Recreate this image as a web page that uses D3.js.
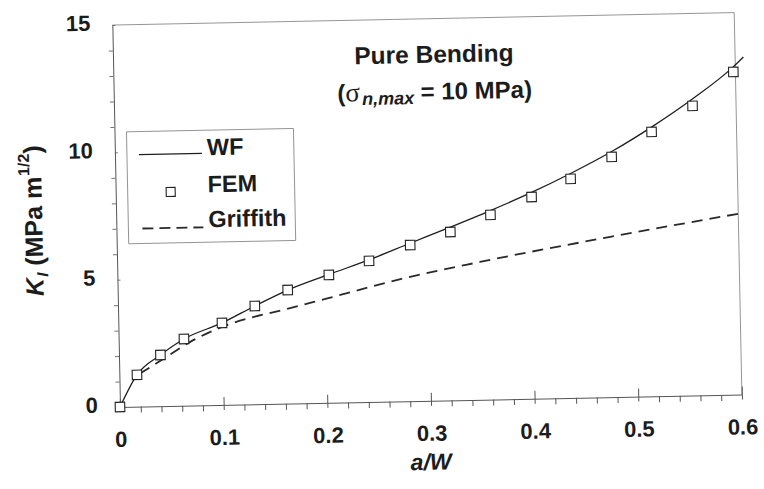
<!DOCTYPE html>
<html><head><meta charset="utf-8">
<script src="https://cdn.jsdelivr.net/npm/d3@7"></script>
<style>body{margin:0;background:#fff}svg{display:block}</style>
</head><body>
<svg id="c" width="764" height="489"></svg>
<script>
// ---- data ----
const xTickValues = [0, 0.1, 0.2, 0.3, 0.4, 0.5, 0.6];
const xTickLabels = ["0", "0.1", "0.2", "0.3", "0.4", "0.5", "0.6"];
const yTickValues = [0, 5, 10, 15];
const yTickLabels = ["0", "5", "10", "15"];

const femA = [0, 0.017, 0.04, 0.063, 0.1, 0.132, 0.164, 0.204, 0.243, 0.283, 0.322, 0.361, 0.401, 0.439, 0.479, 0.518, 0.558, 0.598];
const femK = [0, 1.25, 2.01, 2.62, 3.22, 3.86, 4.46, 5.02, 5.54, 6.13, 6.61, 7.25, 7.92, 8.60, 9.43, 10.38, 11.37, 12.67];

const wfA = [0, 0.017, 0.04, 0.063, 0.1, 0.132, 0.164, 0.204, 0.243, 0.283, 0.322, 0.361, 0.40, 0.44, 0.48, 0.518, 0.558, 0.598, 0.608];
const wfK = [0, 1.25, 2.01, 2.62, 3.22, 3.86, 4.46, 5.04, 5.58, 6.2, 6.8, 7.42, 8.08, 8.83, 9.66, 10.57, 11.64, 12.87, 13.25];

const grA = [0.02, 0.041, 0.069, 0.1, 0.166, 0.203, 0.273, 0.35, 0.486, 0.605];
const grK = [1.3, 1.81, 2.5, 3.06, 3.75, 4.11, 4.8, 5.41, 6.36, 7.13];

const legendLabels = ["WF", "FEM", "Griffith"];

// ---- drawing ----
const svg = d3.select("#c");
const L = 120, R = 742, T = 25, B = 407;
const x = d3.scaleLinear().domain([0, 0.6]).range([L, R]);
const y = d3.scaleLinear().domain([0, 15]).range([B, T]);
const font = "Arial, 'Liberation Sans', Helvetica, sans-serif";
const ink = "#1c1c1c";

const g = svg.append("g").attr("transform", `rotate(-1.15,${L},${B})`);

// frame (top and right)
g.append("path").attr("d", `M${L},${T}H${R}V${B}`).attr("fill", "none")
  .attr("stroke", "#8a8a8a").attr("stroke-width", 0.9);

// x axis
const xMinor = d3.range(0, 0.6001, 0.02).filter(v => Math.abs(v * 10 - Math.round(v * 10)) > 1e-6);
const xAxisMinor = d3.axisBottom(x).tickValues(xMinor).tickSize(6).tickFormat("");
const xAxisMajor = d3.axisBottom(x).tickValues(xTickValues).tickSizeInner(-8).tickSizeOuter(0)
  .tickFormat((d, i) => xTickLabels[i]);
const gxm = g.append("g").attr("transform", `translate(0,${B})`).call(xAxisMinor);
const gx = g.append("g").attr("transform", `translate(0,${B})`).call(xAxisMajor);
gx.selectAll(".tick line").attr("y1", 5);
[gxm, gx].forEach(a => {
  a.select(".domain").attr("stroke", "#555").attr("stroke-width", 1);
  a.selectAll(".tick line").attr("stroke", "#555").attr("stroke-width", 1);
});
gxm.select(".domain").remove();
gx.selectAll(".tick text").attr("y", 40).attr("dy", 0)
  .attr("font-family", font).attr("font-weight", "bold").attr("font-size", 22).attr("fill", ink);

// y axis
const yMinor = d3.range(0, 15.001, 1).filter(v => v % 5 !== 0);
const yAxisMinor = d3.axisLeft(y).tickValues(yMinor).tickSize(4).tickFormat("");
const yAxisMajor = d3.axisLeft(y).tickValues(yTickValues).tickSizeInner(6).tickSizeOuter(0)
  .tickFormat((d, i) => yTickLabels[i]);
const gym = g.append("g").attr("transform", `translate(${L},0)`).call(yAxisMinor);
const gy = g.append("g").attr("transform", `translate(${L},0)`).call(yAxisMajor);
gy.selectAll(".tick line").attr("x2", 3);
[gym, gy].forEach(a => {
  a.select(".domain").attr("stroke", "#555").attr("stroke-width", 1);
  a.selectAll(".tick line").attr("stroke", "#666").attr("stroke-width", 0.9);
});
gym.select(".domain").remove();
gy.selectAll(".tick text").attr("x", -22).attr("dy", "0.22em")
  .attr("font-family", font).attr("font-weight", "bold").attr("font-size", 22).attr("fill", ink);

// Griffith dashed
const grData = grA.map((a, i) => [a, grK[i]]);
g.append("path").datum(grData)
  .attr("d", d3.line().x(d => x(d[0])).y(d => y(d[1])).curve(d3.curveMonotoneX))
  .attr("fill", "none").attr("stroke", "#2a2a2a").attr("stroke-width", 1.8)
  .attr("stroke-dasharray", "11,7");

// WF solid
const wfData = wfA.map((a, i) => [a, wfK[i]]);
g.append("path").datum(wfData)
  .attr("d", d3.line().x(d => x(d[0])).y(d => y(d[1])).curve(d3.curveMonotoneX))
  .attr("fill", "none").attr("stroke", "#1e1e1e").attr("stroke-width", 1.3);

// FEM squares
const fem = femA.map((a, i) => [a, femK[i]]);
const s = 9.5;
g.append("g").selectAll("rect").data(fem).join("rect")
  .attr("x", d => x(d[0]) - s / 2).attr("y", d => y(d[1]) - s / 2)
  .attr("width", s).attr("height", s)
  .attr("fill", "#fff").attr("stroke", "#222").attr("stroke-width", 1.1);

// title
const t1 = g.append("text").attr("x", 441).attr("y", 69).attr("text-anchor", "middle")
  .attr("font-family", font).attr("font-weight", "bold").attr("font-size", 24.5).attr("fill", ink)
  .text("Pure Bending");
const t2 = g.append("text").attr("x", 441).attr("y", 106).attr("text-anchor", "middle")
  .attr("font-family", font).attr("font-weight", "bold").attr("font-size", 24).attr("fill", ink);
t2.append("tspan").text("(");
t2.append("tspan").attr("font-family", "'Liberation Serif', 'DejaVu Serif', serif").attr("font-weight", "normal")
  .attr("font-size", 27).text("σ");
t2.append("tspan").attr("font-style", "italic").attr("font-size", 18).attr("dy", 4).attr("dx", 2).text("n,max");
t2.append("tspan").attr("dy", -4).text(" = 10 MPa)");

// legend
g.append("rect").attr("x", 132).attr("y", 132).attr("width", 167).attr("height", 112)
  .attr("fill", "#fff").attr("stroke", "#888").attr("stroke-width", 0.9);
g.append("line").attr("x1", 144).attr("x2", 207).attr("y1", 155).attr("y2", 155)
  .attr("stroke", "#1e1e1e").attr("stroke-width", 1.3);
g.append("rect").attr("x", 175 - 4.5).attr("y", 193 - 4.5).attr("width", 9).attr("height", 9)
  .attr("fill", "#fff").attr("stroke", "#222").attr("stroke-width", 1.1);
g.append("line").attr("x1", 146).attr("x2", 207).attr("y1", 229).attr("y2", 229)
  .attr("stroke", "#2a2a2a").attr("stroke-width", 1.8).attr("stroke-dasharray", "11,6");
const legY = [157, 194, 229];
g.selectAll(".leg").data(legendLabels).join("text").attr("class", "leg")
  .attr("x", 212).attr("y", (d, i) => legY[i])
  .attr("font-family", font).attr("font-weight", "bold").attr("font-size", 23.5).attr("fill", ink)
  .text(d => d);

// axis titles
g.append("text").attr("x", 430).attr("y", 476).attr("text-anchor", "middle")
  .attr("font-family", font).attr("font-weight", "bold").attr("font-style", "italic")
  .attr("font-size", 23).attr("fill", ink).text("a/W");

const yl = g.append("text").attr("transform", "translate(46,219) rotate(-90)").attr("text-anchor", "middle")
  .attr("font-family", font).attr("font-weight", "bold").attr("font-size", 25).attr("fill", ink);
yl.append("tspan").attr("font-style", "italic").text("K");
yl.append("tspan").attr("font-style", "italic").attr("font-size", 16).attr("dy", 5).attr("dx", 1).text("I");
yl.append("tspan").attr("dy", -5).text(" (MPa m");
yl.append("tspan").attr("font-size", 16).attr("dy", -12).attr("dx", 1).text("1/2");
yl.append("tspan").attr("dy", 12).text(")");
</script>
</body></html>
